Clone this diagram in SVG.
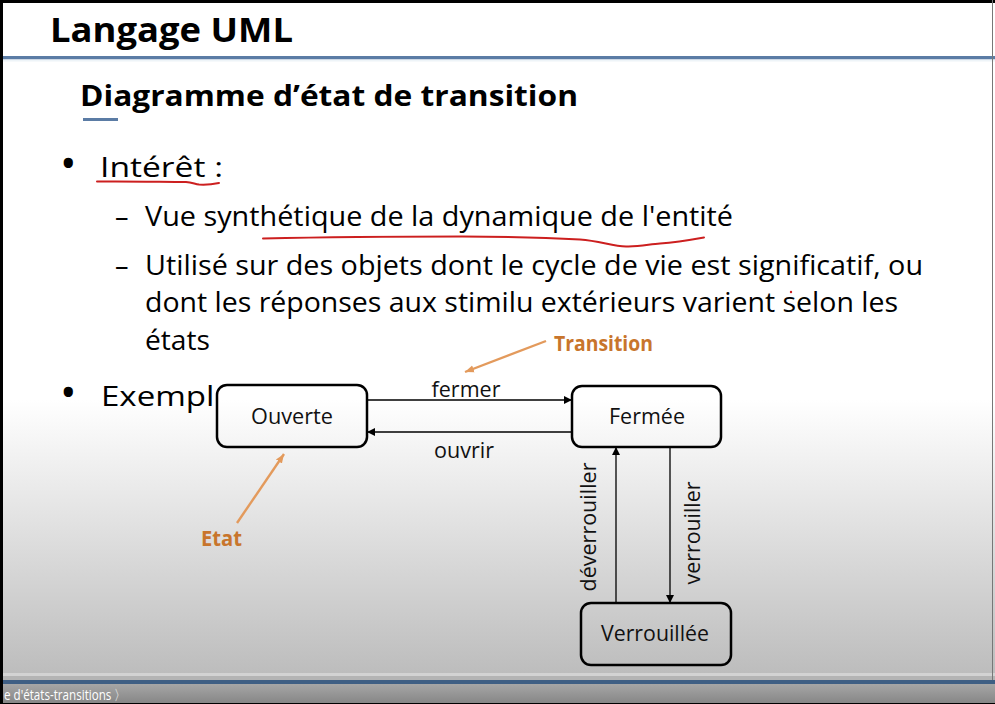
<svg xmlns="http://www.w3.org/2000/svg" width="995" height="704" viewBox="0 0 995 704">
  <defs>
    <linearGradient id="bg" x1="0" y1="400" x2="0" y2="676" gradientUnits="userSpaceOnUse">
      <stop offset="0" stop-color="#ffffff"/>
      <stop offset="0.35" stop-color="#e8e8e8"/>
      <stop offset="1" stop-color="#bcbcbc"/>
    </linearGradient>
    <linearGradient id="footer" x1="0" y1="684" x2="0" y2="704" gradientUnits="userSpaceOnUse">
      <stop offset="0" stop-color="#a6a6a6"/>
      <stop offset="1" stop-color="#858585"/>
    </linearGradient>
    <marker id="arrow" viewBox="0 0 10 10" refX="10" refY="5" markerWidth="8" markerHeight="8" markerUnits="userSpaceOnUse" orient="auto">
      <path d="M0,0 L10,5 L0,10 z" fill="#000"/>
    </marker>
    <marker id="arrowOrange" viewBox="0 0 10 10" refX="10" refY="5" markerWidth="9" markerHeight="9" markerUnits="userSpaceOnUse" orient="auto">
      <path d="M0,1 L10,5 L0,9 z" fill="#e39a5c"/>
    </marker>
  </defs>
  <style>
    .title { font-family: "Open Sans", Lato, sans-serif; font-weight: bold; fill: #000; }
    .body { font-family: "Open Sans", Lato, sans-serif; fill: #000; font-size: 27px; }
    .bullet { font-family: "Open Sans", Lato, sans-serif; fill: #000; font-size: 44px; }
    .state rect { fill: url(#bg); stroke: #000; stroke-width: 2.5; }
    .state text { font-family: "Open Sans", Lato, sans-serif; font-size: 21px; fill: #111; text-anchor: middle; }
    .edge { stroke: #000; stroke-width: 1.3; fill: none; marker-end: url(#arrow); }
    .label { font-family: "Open Sans", Lato, sans-serif; font-size: 21px; fill: #111; text-anchor: middle; }
    .note { font-family: "Open Sans", Lato, sans-serif; font-weight: bold; font-size: 21px; fill: #c8752c; }
    .pointer { stroke: #e39a5c; stroke-width: 2.4; fill: none; marker-end: url(#arrowOrange); }
    .ink { stroke: #cc1f1f; stroke-width: 2; fill: none; stroke-linecap: round; }
  </style>

  <!-- slide background -->
  <rect x="0" y="0" width="995" height="704" fill="url(#bg)"/>

  <!-- header -->
  <text class="title" x="50" y="42" font-size="34" textLength="243" lengthAdjust="spacingAndGlyphs">Langage UML</text>
  <rect x="0" y="56" width="995" height="3.5" fill="#5b7ca5"/>
  <rect x="0" y="59.5" width="995" height="2" fill="#eef4f8"/>
  <text class="title" x="80" y="106" font-size="29" textLength="498" lengthAdjust="spacingAndGlyphs">Diagramme d’état de transition</text>
  <rect x="83" y="118" width="35" height="3" fill="#5b7ca5"/>

  <!-- bullet list -->
  <text class="bullet" x="60" y="179">•</text>
  <text class="body" x="100" y="177" font-size="32" textLength="123" lengthAdjust="spacingAndGlyphs">Intérêt :</text>
  <text class="body" x="115" y="226">–</text>
  <text class="body" x="145" y="226" textLength="588" lengthAdjust="spacingAndGlyphs">Vue synthétique de la dynamique de l'entité</text>
  <text class="body" x="115" y="275">–</text>
  <text class="body" x="145" y="275" textLength="778" lengthAdjust="spacingAndGlyphs">Utilisé sur des objets dont le cycle de vie est significatif, ou</text>
  <text class="body" x="145" y="312" textLength="753" lengthAdjust="spacingAndGlyphs">dont les réponses aux stimilu extérieurs varient selon les</text>
  <text class="body" x="145" y="350" textLength="65" lengthAdjust="spacingAndGlyphs">états</text>
  <text class="bullet" x="60" y="408">•</text>
  <text class="body" x="101" y="406" font-size="32" textLength="132" lengthAdjust="spacingAndGlyphs">Exemple</text>

  <!-- hand-drawn underlines -->
  <path class="ink" d="M97,181.5 C130,181 165,182 186,182 C192,182.5 195,184 199,184.5 C207,185 214,184 219,183"/>
  <path class="ink" d="M263,238.5 C330,237 400,236.5 462,236.5 C520,236.5 555,238 580,239.5 C600,241 612,246 626,246.5 C640,247 650,244 660,243.5 C675,242.5 690,240 704,237.5"/>
  <circle cx="791" cy="292" r="1.2" fill="#cc1f1f"/>

  <!-- transitions -->
  <g id="connectors">
    <line class="edge" x1="367" y1="400" x2="572" y2="400"/>
    <line class="edge" x1="572" y1="432" x2="367" y2="432"/>
    <line class="edge" x1="616" y1="603" x2="616" y2="447"/>
    <line class="edge" x1="670" y1="447" x2="670" y2="603"/>
    <text class="label" x="466" y="397" textLength="69" lengthAdjust="spacingAndGlyphs">fermer</text>
    <text class="label" x="464" y="458" textLength="60" lengthAdjust="spacingAndGlyphs">ouvrir</text>
    <text class="label" transform="translate(596,527) rotate(-90)" textLength="129" lengthAdjust="spacingAndGlyphs">déverrouiller</text>
    <text class="label" transform="translate(700,533) rotate(-90)" textLength="103" lengthAdjust="spacingAndGlyphs">verrouiller</text>
  </g>

  <!-- states -->
  <g id="ouverte" class="state">
    <rect x="217" y="385" width="150" height="62" rx="10"/>
    <text x="292" y="424" textLength="82" lengthAdjust="spacingAndGlyphs">Ouverte</text>
  </g>
  <g id="fermee" class="state">
    <rect x="572" y="386" width="149" height="61" rx="10"/>
    <text x="647" y="424" textLength="76" lengthAdjust="spacingAndGlyphs">Fermée</text>
  </g>
  <g id="verrouillee" class="state">
    <rect x="581" y="603" width="150" height="62" rx="10"/>
    <text x="655" y="641" textLength="108" lengthAdjust="spacingAndGlyphs">Verrouillée</text>
  </g>

  <!-- annotations -->
  <g id="note-transition">
    <line class="pointer" x1="546" y1="341" x2="465" y2="372"/>
    <text class="note" x="554" y="351" textLength="99" lengthAdjust="spacingAndGlyphs">Transition</text>
  </g>
  <g id="note-etat">
    <line class="pointer" x1="237" y1="523" x2="284" y2="454"/>
    <text class="note" x="201" y="546" textLength="41" lengthAdjust="spacingAndGlyphs">Etat</text>
  </g>

  <!-- player frame -->
  <rect x="0" y="673" width="995" height="3" fill="#d3d3d3"/>
  <rect x="0" y="676" width="995" height="4" fill="#b4b4b4"/>
  <rect x="0" y="680" width="995" height="4" fill="#3f5f84"/>
  <rect x="0" y="684" width="995" height="20" fill="url(#footer)"/>
  <text x="4" y="700" font-family="'Open Sans', sans-serif" font-size="14" fill="#ffffff" textLength="122" lengthAdjust="spacingAndGlyphs">e d'états-transitions 〉</text>
  <rect x="0" y="0" width="995" height="3" fill="#000"/>
  <rect x="0" y="0" width="3" height="704" fill="#000"/>
  <rect x="992" y="0" width="1" height="680" fill="#777"/>
  <rect x="0" y="703" width="995" height="1" fill="#000"/>
</svg>
